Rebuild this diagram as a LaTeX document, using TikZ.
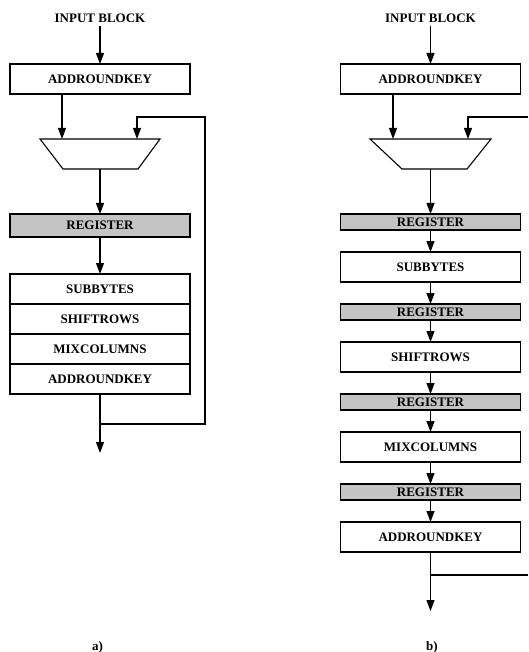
\documentclass[tikz,border=0pt]{standalone}
\usepackage{fontspec}
\setmainfont{Liberation Serif}
\usetikzlibrary{arrows.meta,positioning}
\definecolor{regfill}{HTML}{C4C4C4}
\tikzset{stagebox/.style={draw,line width=1.1pt,minimum width=180pt,minimum height=30pt,inner sep=0pt,outer sep=0pt,font=\fontsize{13}{15}\selectfont\bfseries},regbox/.style={stagebox,fill=regfill,minimum height=16pt},flow/.style={line width=1.1pt,-{Triangle[length=11pt,width=8pt]}},wire/.style={line width=1.1pt},caption/.style={font=\fontsize{13}{15}\selectfont\bfseries}}

\begin{document}
\begin{tikzpicture}[x=1pt,y=-1pt,node distance=22pt]
\useasboundingbox (0,0) rectangle (528,652);
% a) iterative round
\node[caption] (in1) at (100,18) {INPUT BLOCK};
\node[stagebox] (ark1) at (100,79) {ADDROUNDKEY};
\draw[wire] (40,139)--(160,139)--(138,169)--(63,169)--cycle;
\coordinate (ma1) at (62,139);\coordinate (mb1) at (137,139);\coordinate (mo1) at (100,169);
\node[regbox,minimum height=23pt] (reg1) at (100,225.5) {REGISTER};
\node[stagebox] (sb1) at (100,289) {SUBBYTES};
\node[stagebox,below=0pt of sb1] (sr1) {SHIFTROWS};
\node[stagebox,below=0pt of sr1] (mc1) {MIXCOLUMNS};
\node[stagebox,below=0pt of mc1] (ark2) {ADDROUNDKEY};
\coordinate (j1) at (100,424);\coordinate (out1) at (100,453);\coordinate (fb1) at (205,117);
\draw[flow] (in1)--(ark1);
\draw[flow] (ark1.south -| ma1)--(ma1);
\draw[flow] (mo1)--(reg1);
\draw[flow] (reg1)--(sb1);
\draw[flow] (ark2)--(out1);
\draw[flow] (j1)-|(fb1)-|(mb1);
% b) pipelined round
\node[caption] (in2) at (430.5,18) {INPUT BLOCK};
\node[stagebox] (ark3) at (430.5,79) {ADDROUNDKEY};
\draw[wire] (370,139)--(491,139)--(467,169)--(402,169)--cycle;
\coordinate (ma2) at (393,139);\coordinate (mb2) at (468,139);\coordinate (mo2) at (430.5,169);
\node[regbox] (reg2) at (430.5,222) {REGISTER};
\node[stagebox,below=of reg2] (sb2) {SUBBYTES};
\node[regbox,below=of sb2] (reg3) {REGISTER};
\node[stagebox,below=of reg3] (sr2) {SHIFTROWS};
\node[regbox,below=of sr2] (reg4) {REGISTER};
\node[stagebox,below=of reg4] (mc2) {MIXCOLUMNS};
\node[regbox,below=of mc2] (reg5) {REGISTER};
\node[stagebox,below=of reg5] (ark4) {ADDROUNDKEY};
\coordinate (j2) at (430.5,575);\coordinate (out2) at (430.5,611);
\coordinate (e2) at (528,575);\coordinate (e3) at (528,117);
\draw[flow] (in2)--(ark3);
\draw[flow] (ark3.south -| ma2)--(ma2);
\draw[flow] (mo2)--(reg2);
\foreach \a/\b in {reg2/sb2,sb2/reg3,reg3/sr2,sr2/reg4,reg4/mc2,mc2/reg5,reg5/ark4}
  \draw[flow] (\a)--(\b);
\draw[flow] (ark4)--(out2);
\draw[wire] (j2)--(e2);
\draw[flow] (e3)-|(mb2);
\node[caption] (capa) at (97.5,647) {a)};
\node[caption] (capb) at (432,647) {b)};
\end{tikzpicture}
\end{document}
